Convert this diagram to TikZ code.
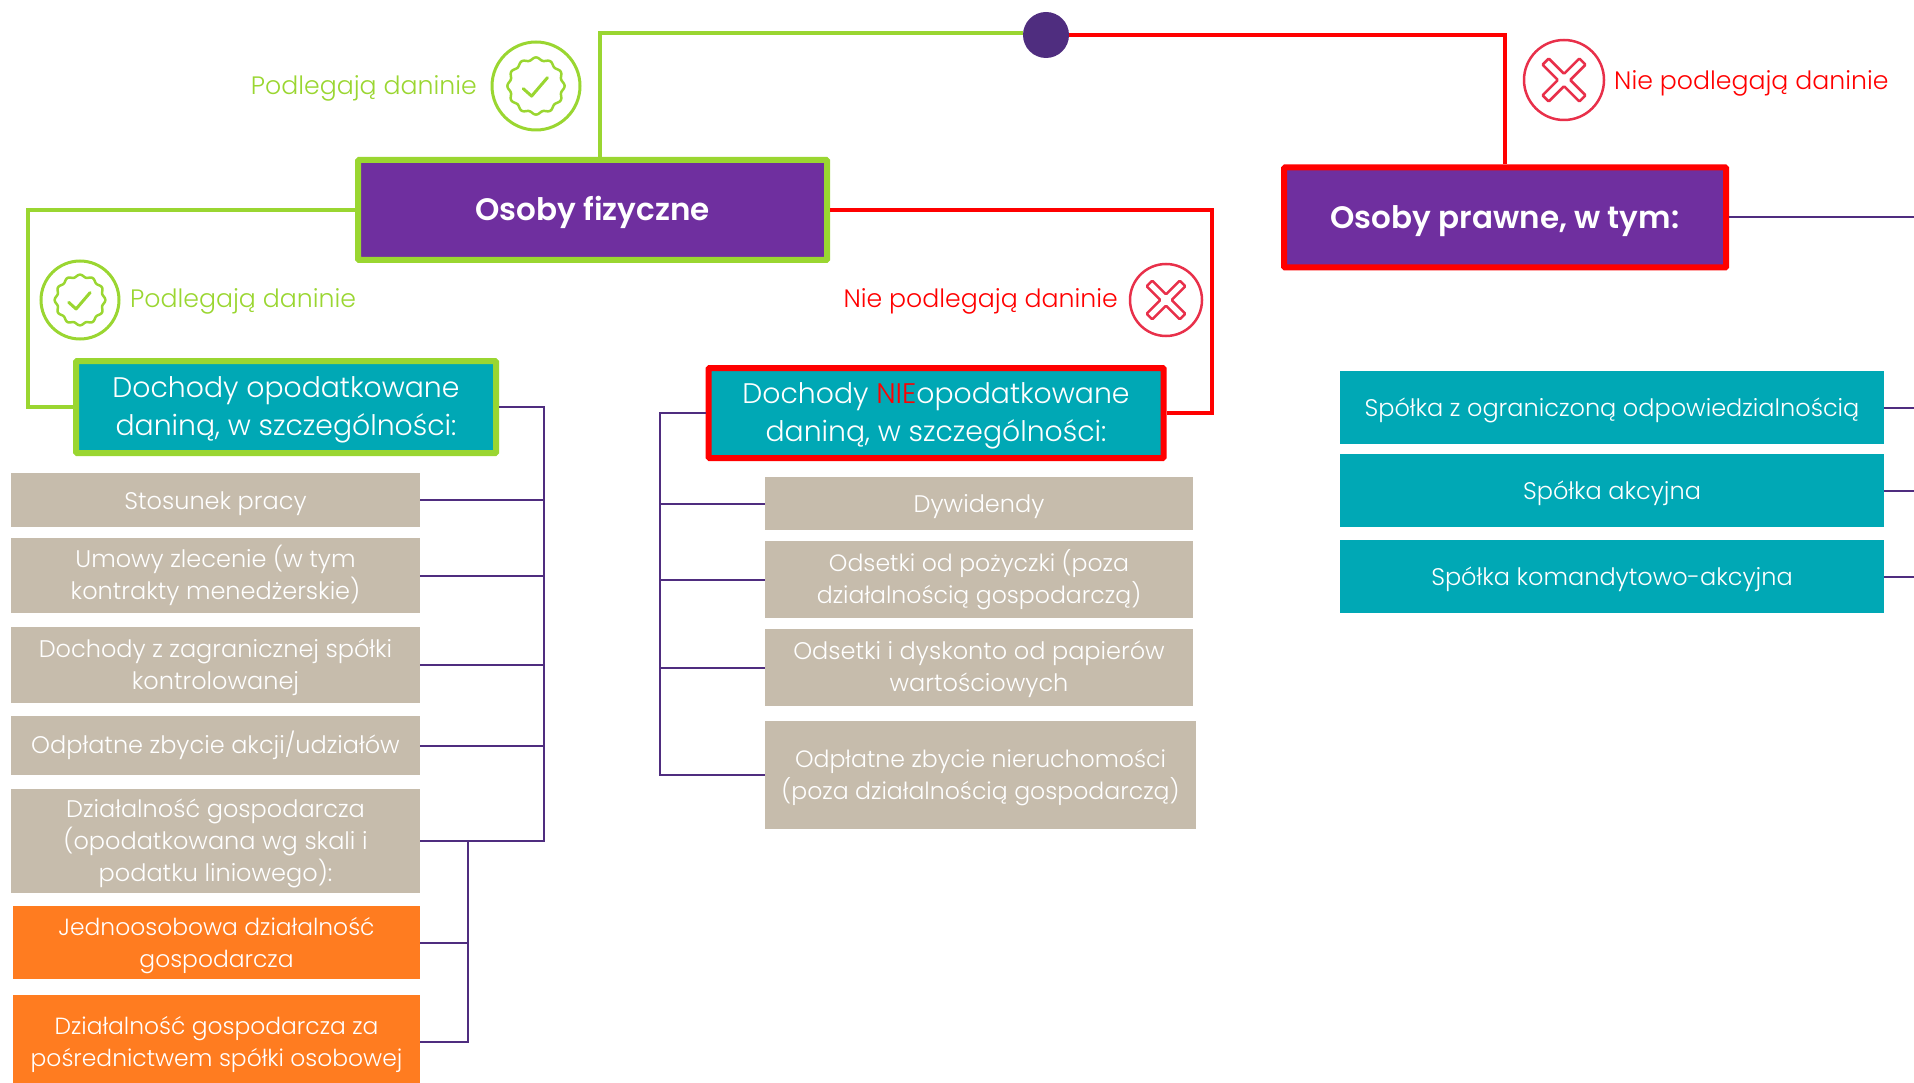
\documentclass[tikz,border=0pt]{standalone}
\usepackage{fontspec}
\setmainfont{Poppins}[UprightFont={* Light},BoldFont={* SemiBold}]
\definecolor{zielony}{HTML}{9AD631}
\definecolor{czerwony}{HTML}{FF0000}
\definecolor{ikonared}{HTML}{E8304A}
\definecolor{fiolet}{HTML}{6F2F9F}
\definecolor{ciemny}{HTML}{4F2D7F}
\definecolor{morski}{HTML}{00A8B5}
\definecolor{bezowy}{HTML}{C6BCAC}
\definecolor{pomaranczowy}{HTML}{FF7C20}
\newcommand{\dn}[1]{\rule{0pt}{#1pt}}
\tikzset{
    box/.style={rectangle, inner sep=0pt, align=center, text=white},
    topbox/.style={box, fill=fiolet, line width=6pt, rounded corners=1pt, minimum height=100pt, font=\bfseries\fontsize{31}{36}\selectfont},
    headbox/.style={box, fill=morski, line width=6pt, rounded corners=1pt, font=\fontsize{28.3}{38}\selectfont},
    itembox/.style={box, fill=bezowy, font=\fontsize{24}{32}\selectfont},
    narrowitem/.style={itembox, font=\fontsize{23.6}{32}\selectfont},
    subbox/.style={box, fill=pomaranczowy, font=\fontsize{23.4}{32}\selectfont},
    typebox/.style={box, fill=morski, minimum width=544pt, minimum height=73pt, font=\fontsize{24}{32}\selectfont},
    greenline/.style={draw=zielony, line width=4.5pt},
    redline/.style={draw=czerwony, line width=4.5pt},
    treeline/.style={draw=ciemny, line width=2pt},
    note/.style={inner sep=0pt, font=\fontsize{25.2}{30}\selectfont},
    okbadge/.pic={
        \draw[zielony, line width=3pt] (0,0) circle[radius=1];
        \draw[zielony, line width=2.5pt, domain=0:360, samples=145, smooth]
            plot ({(.62+.03*cos(12*\x))*cos(\x)},{(.62+.03*cos(12*\x))*sin(\x)}) -- cycle;
        \draw[zielony, line width=3pt, line cap=round, line join=round] (-.29,.06) -- (-.10,.23) -- (.26,-.19);
    },
    nobadge/.pic={
        \draw[ikonared, line width=2.5pt] (0,0) circle[radius=1];
        \draw[ikonared, line width=2.5pt, rotate=45, rounded corners=1pt]
            (.11,.11) -- (.65,.11) -- (.65,-.11) -- (.11,-.11) -- (.11,-.65) -- (-.11,-.65) -- (-.11,-.11)
            -- (-.65,-.11) -- (-.65,.11) -- (-.11,.11) -- (-.11,.65) -- (.11,.65) -- cycle;
    },
}
\begin{document}
\begin{tikzpicture}[x=1pt,y=-1pt]
    \useasboundingbox (0,0) rectangle (1914,1083);
    % top of the tree
    \node[circle, fill=ciemny, minimum size=46pt, inner sep=0pt] (dot) at (1046,35) {};
    \node[topbox, draw=zielony, minimum width=469pt] (fizyczne) at (592.5,210) {\dn{30}Osoby fizyczne};
    \node[topbox, draw=czerwony, minimum width=442pt] (prawne) at (1505,217.5) {\dn{30}Osoby prawne, w tym:};
    \node[headbox, draw=zielony, minimum width=420pt, minimum height=92pt] (opodatkowane) at (286,407)
        {\dn{27.5}Dochody opodatkowane\\daniną, w szczególności:};
    \node[headbox, draw=czerwony, minimum width=455pt, minimum height=90pt] (nieopodatkowane) at (936,413)
        {\dn{27.5}Dochody {\color{czerwony}NIE}opodatkowane\\daniną, w szczególności:};
    % left column
    \node[itembox, minimum width=409pt, minimum height=54pt] (stosunek) at (215.5,500) {\dn{26}Stosunek pracy};
    \node[itembox, minimum width=409pt, minimum height=75pt] (umowy) at (215.5,575.5) {Umowy zlecenie (w tym\\kontrakty menedżerskie)};
    \node[itembox, minimum width=409pt, minimum height=76pt] (zagraniczna) at (215.5,665) {\dn{23}Dochody z zagranicznej spółki\\kontrolowanej};
    \node[itembox, minimum width=409pt, minimum height=59pt] (akcje) at (215.5,745.5) {Odpłatne zbycie akcji/udziałów};
    \node[itembox, minimum width=409pt, minimum height=104pt] (dzialalnosc) at (215.5,841) {\dn{23}Działalność gospodarcza\\(opodatkowana wg skali i\\podatku liniowego):};
    \node[subbox, minimum width=407pt, minimum height=73pt] (jednoosobowa) at (216.5,942.5) {\dn{24}Jednoosobowa działalność\\gospodarcza};
    \node[subbox, minimum width=407pt, minimum height=93pt] (osobowa) at (216.5,1041.5) {\dn{24}Działalność gospodarcza za\\pośrednictwem spółki osobowej};
    % middle column
    \node[itembox, minimum width=428pt, minimum height=53pt] (dywidendy) at (979,503.5) {\dn{24}Dywidendy};
    \node[narrowitem, minimum width=428pt, minimum height=77pt] (pozyczki) at (979,579.5) {Odsetki od pożyczki (poza\\działalnością gospodarczą)};
    \node[itembox, minimum width=428pt, minimum height=77pt] (papiery) at (979,667.5) {\dn{23}Odsetki i dyskonto od papierów\\wartościowych};
    \node[narrowitem, minimum width=431pt, minimum height=108pt] (nieruchomosci) at (980.5,775) {\dn{23}Odpłatne zbycie nieruchomości\\(poza działalnością gospodarczą)};
    % right column
    \node[typebox] (zoo) at (1612,407.5) {\dn{23.5}Spółka z ograniczoną odpowiedzialnością};
    \node[typebox] (akcyjna) at (1612,490.5) {\dn{23.5}Spółka akcyjna};
    \node[typebox] (komandytowa) at (1612,576.5) {\dn{23.5}Spółka komandytowo-akcyjna};
    % bends of the connectors
    \coordinate (greentop) at (600,33);
    \coordinate (greenside) at (28,210);
    \coordinate (redside) at (1212,210);
    \coordinate (trunkleft) at (544,407);
    \coordinate (trunksub) at (467.5,841);
    \coordinate (trunkmid) at (660,413);
    \coordinate (rim) at (1914,0);
    \draw[greenline] (dot.west |- greentop) -- (greentop) -- (greentop |- fizyczne.north);
    \draw[redline] (dot.east) -| (prawne.north);
    \draw[greenline] (fizyczne.west) -- (fizyczne.west -| greenside) |- (opodatkowane.west);
    \draw[redline] (fizyczne.east) -- (fizyczne.east -| redside) |- (nieopodatkowane.east);
    \draw[treeline] (opodatkowane.east) -- (trunkleft) |- (dzialalnosc.east);
    \foreach \n in {stosunek,umowy,zagraniczna,akcje}
        \draw[treeline] (\n.east) -- (\n.east -| trunkleft);
    \draw[treeline] (trunksub) |- (osobowa.east);
    \draw[treeline] (jednoosobowa.east) -- (jednoosobowa.east -| trunksub);
    \draw[treeline] (nieopodatkowane.west) -- (trunkmid) |- (nieruchomosci.west);
    \foreach \n in {dywidendy,pozyczki,papiery}
        \draw[treeline] (\n.west) -- (\n.west -| trunkmid);
    \foreach \n in {prawne,zoo,akcyjna,komandytowa}
        \draw[treeline] (\n.east) -- (\n.east -| rim);
    % badges and their notes
    \pic[scale=44] (okA) at (536,86) {okbadge};
    \pic[scale=39] (okB) at (80,300) {okbadge};
    \pic[scale=40] (noA) at (1564,80) {nobadge};
    \pic[scale=36] (noB) at (1166,300) {nobadge};
    \node[note, text=zielony, anchor=east] (noteA) at (477,88.5) {Podlegają daninie};
    \node[note, text=zielony, anchor=west] (noteB) at (130,301.5) {Podlegają daninie};
    \node[note, text=czerwony, anchor=west] (noteC) at (1614,83.5) {Nie podlegają daninie};
    \node[note, text=czerwony, anchor=east] (noteD) at (1118,301.5) {Nie podlegają daninie};
\end{tikzpicture}
\end{document}
